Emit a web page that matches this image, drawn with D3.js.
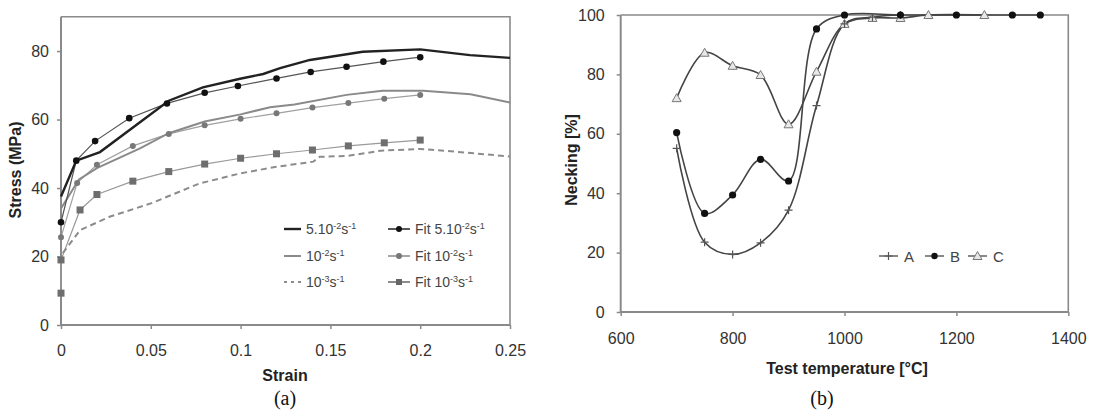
<!DOCTYPE html>
<html><head><meta charset="utf-8">
<script src="https://cdn.jsdelivr.net/npm/d3@7"></script>
<style>
body{margin:0;background:#fff;}
svg{display:block;}
svg text{font-family:"Liberation Sans",Arial,Helvetica,sans-serif;}
</style></head>
<body><svg id="c" width="1095" height="411"></svg>
<script>
// ---------- Chart (a) data ----------
const exp52 = [[0,37.5],[0.0085,48],[0.0217,50.5],[0.06,65.5],[0.079,69.4],[0.0997,71.9],[0.1126,73.3],[0.122,75],[0.1386,77.4],[0.168,79.8],[0.2,80.5],[0.2277,78.8],[0.25,78]];
const exp12 = [[0,34],[0.01,42.5],[0.02,45.8],[0.044,51.6],[0.06,56],[0.08,59.4],[0.1,61.5],[0.1164,63.6],[0.13,64.4],[0.159,67.2],[0.179,68.4],[0.2017,68.4],[0.228,67.4],[0.25,65]];
const exp13 = [[0.001,21],[0.0106,27.7],[0.027,31.6],[0.05,35.5],[0.077,41.3],[0.1,44.3],[0.12,46.2],[0.1405,47.7],[0.144,49.1],[0.16,49.4],[0.178,50.9],[0.2,51.4],[0.22,50.6],[0.248,49.3],[0.25,49.2]];
const fit52 = [[0,30],[0.0085,48],[0.019,53.7],[0.038,60.4],[0.059,64.7],[0.08,67.8],[0.0985,69.8],[0.12,72],[0.139,73.9],[0.159,75.4],[0.1795,76.9],[0.2,78.2]];
const fit12 = [[0,25.6],[0.009,41.5],[0.02,46.8],[0.04,52.3],[0.06,55.8],[0.08,58.3],[0.1,60.2],[0.12,61.8],[0.14,63.5],[0.16,64.8],[0.18,66.1],[0.2,67.2]];
const fit13 = [[0,9.3],[0,19],[0.0106,33.6],[0.02,38.1],[0.04,42],[0.06,44.8],[0.08,47],[0.1,48.7],[0.12,50],[0.14,51.1],[0.16,52.3],[0.18,53.2],[0.2,54]];
const strainTicks = [0,0.05,0.1,0.15,0.2,0.25];
const stressTicks = [0,20,40,60,80];

// ---------- Chart (b) data ----------
const tempA = [700,750,800,850,900,950,1000,1050,1100];
const neckA = [55.1,23.5,19.4,23.3,34.3,69.5,97,99.3,100];
const tempB = [700,750,800,850,900,950,1000,1100,1200,1300,1350];
const neckB = [60.4,33.2,39.4,51.4,44.1,95.3,100,100,100,100,100];
const tempC = [700,750,800,850,900,950,1000,1050,1100,1150,1250];
const neckC = [72,87.3,82.9,79.8,63.2,80.9,97,99,99,100,100];
const tempTicks = [600,800,1000,1200,1400];
const neckTicks = [0,20,40,60,80,100];

const FONT = "'Liberation Sans', Arial, Helvetica, sans-serif";
const svg = d3.select("#c").attr("font-family",FONT);
const axisCol = "#8a8a8a", textCol = "#333";

function styleAxis(g){
  g.attr("font-family",FONT);
  g.select(".domain").remove();
  g.selectAll("line").attr("stroke",axisCol).attr("stroke-width",1.5);
  g.selectAll("text").attr("fill",textCol).style("font-size","16px").style("font-family",FONT);
}

// ================= Chart (a) =================
const xA = d3.scaleLinear().domain([0,0.25]).range([61,510]);
const yA = d3.scaleLinear().domain([0,90]).range([325,16.8]);

svg.append("path").attr("fill","none").attr("stroke",axisCol).attr("stroke-width",1.6)
  .attr("d",`M${xA(0)},${yA(90)}H${xA(0.25)}V${yA(0)}`);
svg.append("path").attr("fill","none").attr("stroke",axisCol).attr("stroke-width",2)
  .attr("d",`M${xA(0)},${yA(90)}V${yA(0)}H${xA(0.25)}`);

svg.append("g").attr("transform",`translate(0,${yA(0)})`)
  .call(d3.axisBottom(xA).tickValues(strainTicks).tickSize(4).tickPadding(16).tickFormat(d=>d3.format("")(d)))
  .call(styleAxis);
svg.append("g").attr("transform",`translate(${xA(0)},0)`)
  .call(d3.axisLeft(yA).tickValues(stressTicks).tickSize(4).tickPadding(8))
  .call(styleAxis);

const lineA = d3.line().x(d=>xA(d[0])).y(d=>yA(d[1]));

svg.append("path").datum(fit13).attr("d",lineA).attr("fill","none").attr("stroke","#9a9a9a").attr("stroke-width",1.2);
svg.append("path").datum(fit12).attr("d",lineA).attr("fill","none").attr("stroke","#a0a0a0").attr("stroke-width",1.2);
svg.append("path").datum(exp13).attr("d",lineA).attr("fill","none").attr("stroke","#8c8c8c").attr("stroke-width",2).attr("stroke-dasharray","6,4");
svg.append("path").datum(exp12).attr("d",lineA).attr("fill","none").attr("stroke","#8a8a8a").attr("stroke-width",2);
svg.append("path").datum(fit52).attr("d",lineA).attr("fill","none").attr("stroke","#555").attr("stroke-width",1.2);
svg.append("path").datum(exp52).attr("d",lineA).attr("fill","none").attr("stroke","#222").attr("stroke-width",2.4);

svg.append("g").selectAll("rect").data(fit13).join("rect")
  .attr("x",d=>xA(d[0])-3.5).attr("y",d=>yA(d[1])-3.5).attr("width",7).attr("height",7).attr("fill","#6e6e6e");
svg.append("g").selectAll("circle").data(fit12).join("circle")
  .attr("cx",d=>xA(d[0])).attr("cy",d=>yA(d[1])).attr("r",3).attr("fill","#787878");
svg.append("g").selectAll("circle").data(fit52).join("circle")
  .attr("cx",d=>xA(d[0])).attr("cy",d=>yA(d[1])).attr("r",3.3).attr("fill","#111");

svg.append("text").attr("x",285).attr("y",381).attr("text-anchor","middle")
  .attr("font-weight","bold").attr("font-size",16).attr("fill","#222").text("Strain");
svg.append("text").attr("transform","translate(21,170) rotate(-90)").attr("text-anchor","middle")
  .attr("font-weight","bold").attr("font-size",16).attr("fill","#222").text("Stress (MPa)");
svg.append("text").attr("x",285).attr("y",405).attr("text-anchor","middle")
  .style("font-family","'Liberation Serif','Times New Roman',serif").attr("font-size",20).attr("fill","#111").text("(a)");

// legend (a)
const legA = [
  {col:0,row:0,parts:[["5.10",0],["-2",1],["s",0],["-1",1]],stroke:"#222",w:2.4,dash:null,mk:null},
  {col:0,row:1,parts:[["10",0],["-2",1],["s",0],["-1",1]],stroke:"#8a8a8a",w:2,dash:null,mk:null},
  {col:0,row:2,parts:[["10",0],["-3",1],["s",0],["-1",1]],stroke:"#8c8c8c",w:2,dash:"3,4",mk:null},
  {col:1,row:0,parts:[["Fit 5.10",0],["-2",1],["s",0],["-1",1]],stroke:"#222",w:1.5,dash:null,mk:"c",mc:"#111"},
  {col:1,row:1,parts:[["Fit 10",0],["-2",1],["s",0],["-1",1]],stroke:"#888",w:1.5,dash:null,mk:"c",mc:"#777"},
  {col:1,row:2,parts:[["Fit 10",0],["-3",1],["s",0],["-1",1]],stroke:"#666",w:1.5,dash:null,mk:"s",mc:"#666"}
];
const legRowY = [229,256,282];
const legColX = [284,388];
legA.forEach(e=>{
  const x0 = legColX[e.col], y0 = legRowY[e.row], lw = e.col ? 22 : 17;
  const l = svg.append("line").attr("x1",x0).attr("x2",x0+lw).attr("y1",y0).attr("y2",y0)
    .attr("stroke",e.stroke).attr("stroke-width",e.w);
  if(e.dash) l.attr("stroke-dasharray",e.dash);
  if(e.mk==="c") svg.append("circle").attr("cx",x0+lw/2).attr("cy",y0).attr("r",3).attr("fill",e.mc);
  if(e.mk==="s") svg.append("rect").attr("x",x0+lw/2-3).attr("y",y0-3).attr("width",6).attr("height",6).attr("fill",e.mc);
  const t = svg.append("text").attr("x",x0+lw+5).attr("y",y0+5).attr("font-size",14).attr("fill","#444");
  let sup=false;
  e.parts.forEach(p=>{
    const ts = t.append("tspan").text(p[0]);
    if(p[1] && !sup){ ts.attr("dy",-5).attr("font-size",9); sup=true; }
    else if(!p[1] && sup){ ts.attr("dy",5); sup=false; }
    else if(p[1]) ts.attr("font-size",9);
  });
});

// ================= Chart (b) =================
const xB = d3.scaleLinear().domain([600,1400]).range([620.7,1068.3]);
const yB = d3.scaleLinear().domain([0,100]).range([312,15]);

svg.append("path").attr("fill","none").attr("stroke",axisCol).attr("stroke-width",1.6)
  .attr("d",`M${xB(600)},${yB(100)}H${xB(1400)}V${yB(0)}`);
svg.append("path").attr("fill","none").attr("stroke",axisCol).attr("stroke-width",2)
  .attr("d",`M${xB(600)},${yB(100)}V${yB(0)}H${xB(1400)}`);

svg.append("g").attr("transform",`translate(0,${yB(0)})`)
  .call(d3.axisBottom(xB).tickValues(tempTicks).tickSize(4).tickPadding(17).tickFormat(d3.format("d")))
  .call(styleAxis);
svg.append("g").attr("transform",`translate(${xB(600)},0)`)
  .call(d3.axisLeft(yB).tickValues(neckTicks).tickSize(4).tickPadding(12))
  .call(styleAxis);

const lineB = d3.line().x(d=>xB(d[0])).y(d=>yB(d[1])).curve(d3.curveCatmullRom.alpha(0.5));
const serA = tempA.map((t,i)=>[t,neckA[i]]);
const serB = tempB.map((t,i)=>[t,neckB[i]]);
const serC = tempC.map((t,i)=>[t,neckC[i]]);
[serA,serB,serC].forEach(s=>{
  svg.append("path").datum(s).attr("d",lineB).attr("fill","none").attr("stroke","#444").attr("stroke-width",1.6);
});

function drawPlus(g,x,y){
  g.append("path").attr("d",`M${x-4},${y}H${x+4}M${x},${y-4}V${y+4}`).attr("stroke","#555").attr("stroke-width",1.2);
}
function drawTri(g,x,y){
  g.append("path").attr("d",`M${x},${y-4.5}L${x+4.5},${y+3.5}L${x-4.5},${y+3.5}Z`)
    .attr("fill","#e8e8e8").attr("stroke","#777").attr("stroke-width",1);
}
const gm = svg.append("g");
serC.forEach(d=>drawTri(gm,xB(d[0]),yB(d[1])));
serA.forEach(d=>drawPlus(gm,xB(d[0]),yB(d[1])));
gm.selectAll("circle.b").data(serB).join("circle").attr("class","b")
  .attr("cx",d=>xB(d[0])).attr("cy",d=>yB(d[1])).attr("r",3.6).attr("fill","#111");

svg.append("text").attr("x",847).attr("y",374).attr("text-anchor","middle")
  .attr("font-weight","bold").attr("font-size",16).attr("fill","#222").text("Test temperature [°C]");
svg.append("text").attr("transform","translate(577,160) rotate(-90)").attr("text-anchor","middle")
  .attr("font-weight","bold").attr("font-size",16).attr("fill","#222").text("Necking [%]");
svg.append("text").attr("x",822).attr("y",405).attr("text-anchor","middle")
  .style("font-family","'Liberation Serif','Times New Roman',serif").attr("font-size",20).attr("fill","#111").text("(b)");

// legend (b)
const legBNames = ["A","B","C"];
const legBX = [879,925,968];
const legY = 256;
legBNames.forEach((n,i)=>{
  const x0 = legBX[i];
  svg.append("line").attr("x1",x0).attr("x2",x0+19).attr("y1",legY).attr("y2",legY).attr("stroke","#555").attr("stroke-width",1.4);
  if(i===0) drawPlus(svg,x0+9.5,legY);
  if(i===1) svg.append("circle").attr("cx",x0+9.5).attr("cy",legY).attr("r",3.2).attr("fill","#111");
  if(i===2) drawTri(svg,x0+9.5,legY);
  svg.append("text").attr("x",x0+25).attr("y",legY+5.5).attr("font-size",15).attr("fill","#444").text(n);
});
</script></body></html>
